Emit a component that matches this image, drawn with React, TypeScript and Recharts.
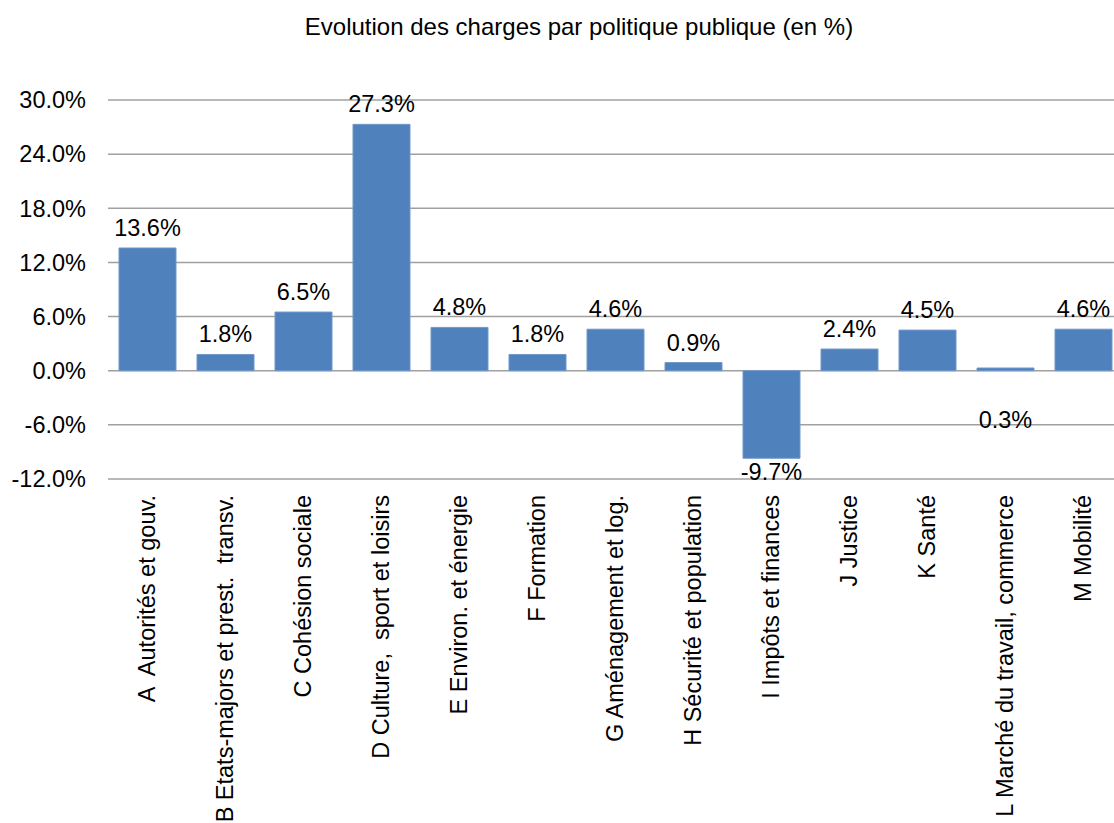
import { BarChart, Bar, XAxis, YAxis, CartesianGrid, LabelList } from 'recharts';

const categories = [
  'A  Autorités et gouv.',
  'B Etats-majors et prest.  transv.',
  'C Cohésion sociale',
  'D Culture,  sport et loisirs',
  'E Environ. et énergie',
  'F Formation',
  'G Aménagement et log.',
  'H Sécurité et population',
  'I Impôts et finances',
  'J Justice',
  'K Santé',
  'L Marché du travail, commerce',
  'M Mobilité',
];

const values = [13.6, 1.8, 6.5, 27.3, 4.8, 1.8, 4.6, 0.9, -9.7, 2.4, 4.5, 0.3, 4.6];

const yTicks = [-12, -6, 0, 6, 12, 18, 24, 30];

const FONT = '"Liberation Sans", Arial, sans-serif';
const FS = 23.5;

const data = categories.map((name, i) => ({ name, value: values[i] }));

function XTick(props: any) {
  const { x, y, payload } = props;
  const ty = y + 8;
  return (
    <text
      x={x}
      y={ty}
      transform={`rotate(-90, ${x}, ${ty})`}
      textAnchor="end"
      dominantBaseline="central"
      fontSize={FS}
      fontFamily={FONT}
      fill="#000"
      style={{ whiteSpace: 'pre' }}
    >
      {payload.value}
    </text>
  );
}

function ValueLabel(props: any) {
  const { x, y, width, height, value } = props;
  const cx = x + width / 2;
  const top = Math.min(y, y + height);
  const bottom = Math.max(y, y + height);
  let ty: number;
  if (value < 0) {
    ty = bottom + 14;
  } else if (value < 0.5) {
    ty = bottom + 49;
  } else {
    ty = top - 20;
  }
  return (
    <text
      x={cx}
      y={ty}
      textAnchor="middle"
      dominantBaseline="central"
      fontSize={FS}
      fontFamily={FONT}
      fill="#000"
    >
      {`${value.toFixed(1)}%`}
    </text>
  );
}

export default function App() {
  return (
    <div
      style={{
        position: 'absolute',
        left: 0,
        top: 0,
        width: 1114,
        height: 823,
        overflow: 'hidden',
        background: '#fff',
      }}
    >
      <div
        style={{
          position: 'absolute',
          left: 0,
          top: 13,
          width: 1158,
          textAlign: 'center',
          fontFamily: FONT,
          fontSize: 24,
          lineHeight: '28px',
          color: '#000',
        }}
      >
        Evolution des charges par politique publique (en %)
      </div>
      <BarChart
        width={1130}
        height={823}
        data={data}
        margin={{ top: 100, right: 8, bottom: 0, left: 0 }}
      >
        <CartesianGrid vertical={false} stroke="#a0a0a0" strokeWidth={1.5} />
        <XAxis
          dataKey="name"
          axisLine={false}
          tickLine={false}
          interval={0}
          height={344}
          tick={<XTick />}
        />
        <YAxis
          domain={[-12, 30]}
          ticks={yTicks}
          width={108}
          axisLine={false}
          tickLine={false}
          tickSize={0}
          tickMargin={22}
          tickFormatter={(v: number) => `${v.toFixed(1)}%`}
          tick={{ fontSize: FS, fontFamily: FONT, fill: '#000' }}
        />
        <Bar
          dataKey="value"
          fill="#4F81BD"
          stroke="#6f97cb"
          strokeWidth={1}
          barSize={57}
          isAnimationActive={false}
        >
          <LabelList dataKey="value" content={<ValueLabel />} />
        </Bar>
      </BarChart>
    </div>
  );
}
